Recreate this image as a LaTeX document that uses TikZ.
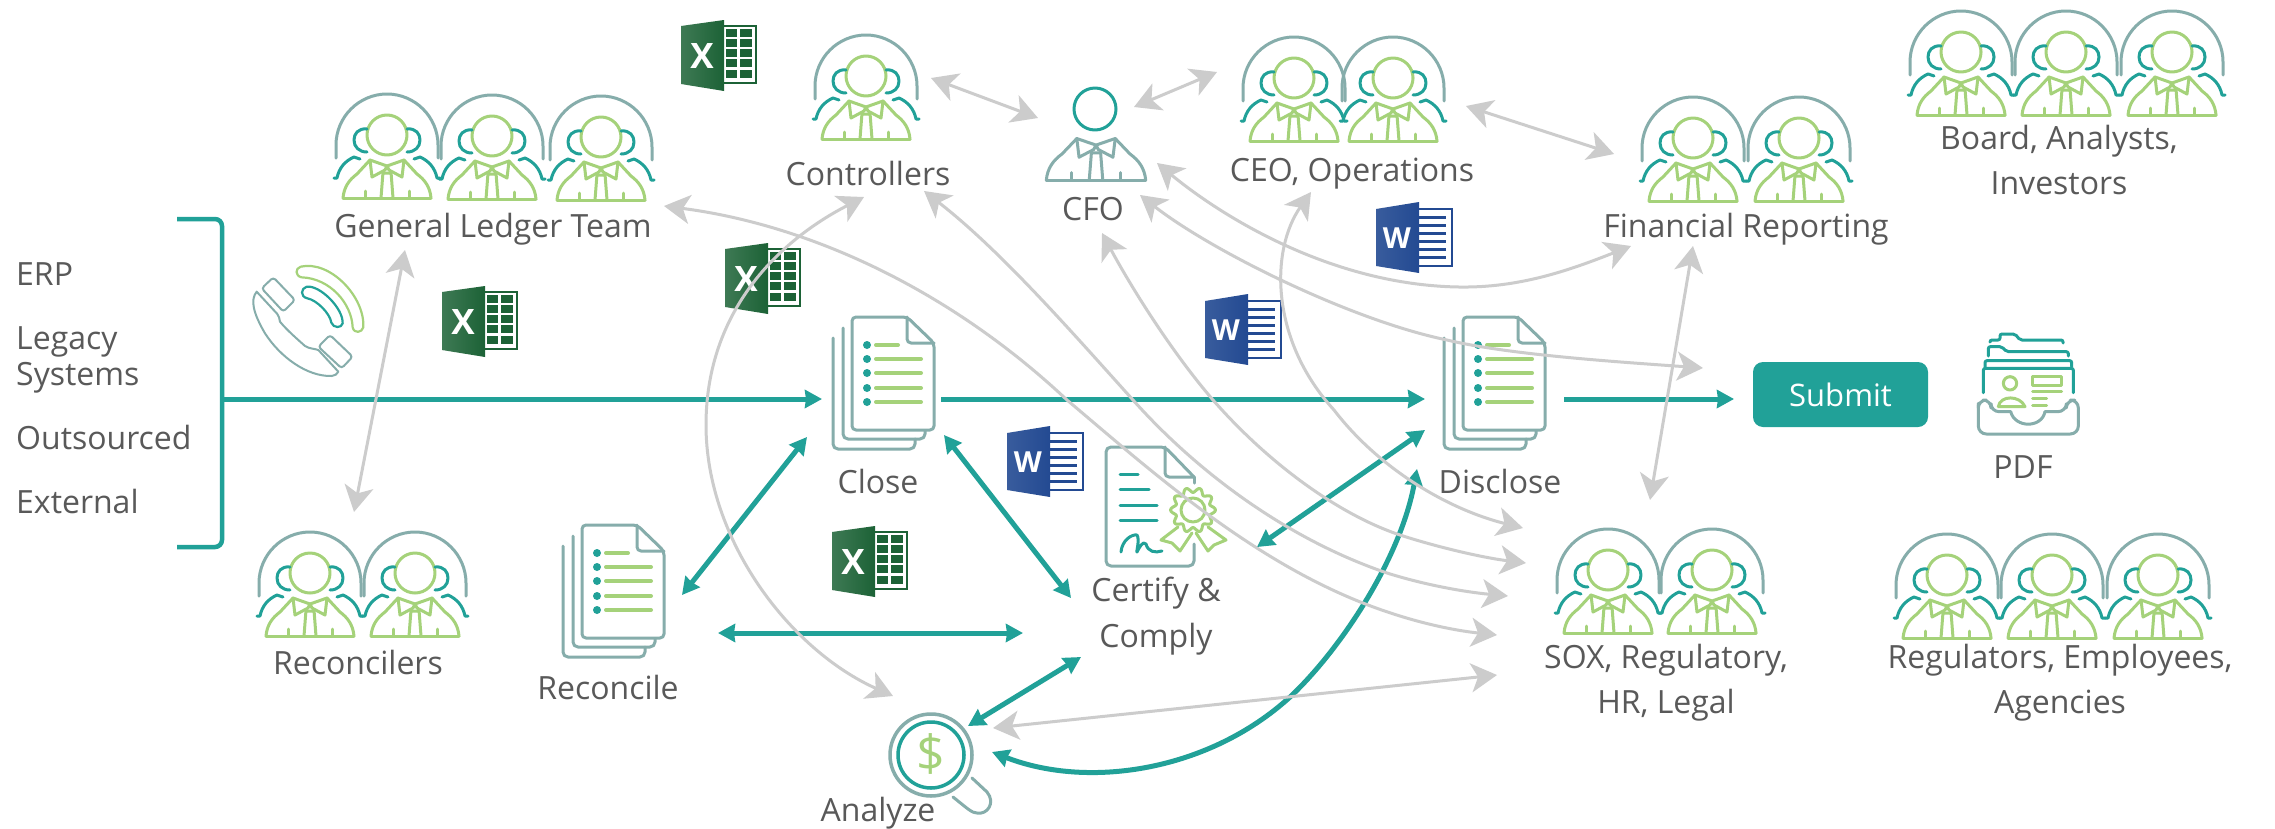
\documentclass[tikz,border=0pt]{standalone}
\usepackage{fontspec}
\setmainfont{Open Sans}
\usetikzlibrary{arrows.meta}
\definecolor{tealc}{HTML}{21A198}
\definecolor{greyc}{HTML}{CCCCCC}
\definecolor{iconc}{HTML}{86ADAB}
\definecolor{greenc}{HTML}{A5D27A}
\definecolor{textc}{HTML}{595959}
\definecolor{xlc}{HTML}{1C6236}
\definecolor{wdc}{HTML}{234A92}
\tikzset{
  lbl/.style={text=textc,font=\fontsize{32}{36}\selectfont,inner sep=0pt,align=center,text height=28pt,text depth=6pt},
  lbll/.style={lbl,anchor=west},
  ga/.style={draw=greyc,line width=3pt,{Stealth[length=26pt,width=29pt,inset=7pt]}-{Stealth[length=26pt,width=29pt,inset=7pt]}},
  ta/.style={draw=tealc,line width=5pt,{Stealth[length=17pt,width=18pt,inset=1pt]}-{Stealth[length=17pt,width=18pt,inset=1pt]}},
  tr/.style={draw=tealc,line width=5pt,-{Stealth[length=17pt,width=18pt,inset=1pt]}},
  ig/.style={draw=iconc,line width=3pt,line join=round,line cap=round},
  ie/.style={draw=greenc,line width=3pt,line join=round,line cap=round},
  it/.style={draw=tealc,line width=3pt,line join=round,line cap=round},
  submitbox/.style={fill=tealc,rounded corners=10pt,minimum width=175pt,minimum height=65pt,inner sep=0pt,text=white,font=\fontsize{31}{36}\selectfont},
  torso/.pic={
    \draw[#1] (-44,63) -- (44,63);
    \draw[#1] (-44,63) .. controls (-43,52) and (-38,45) .. (-30,39) -- (-17,25) -- (0,31) -- (17,25) -- (30,39) .. controls (38,45) and (43,52) .. (44,63);
    \draw[#1] (-17,25) -- (-15,42) -- (-2,35) -- (0,31) -- (2,35) -- (15,42) -- (17,25);
    \draw[#1] (-4,37) -- (-6,63) (4,37) -- (6,63) (-4,38) -- (4,38);
    \draw[#1] (-22,63) -- (-22,56) (22,63) -- (22,56);
  },
  person/.pic={
    \draw[ig] (-51,23) -- (-51,10) .. controls (-51,-18) and (-28,-41) .. (0,-41) .. controls (28,-41) and (51,-18) .. (51,10) -- (51,23);
    \draw[ie] (0,0) circle[radius=20];
    \draw[it] (-20,-6) .. controls (-29,-7) and (-33,-1) .. (-33,5) .. controls (-33,12) and (-28,17) .. (-20,17);
    \draw[it] (20,-6) .. controls (29,-7) and (33,-1) .. (33,5) .. controls (33,12) and (28,17) .. (20,17);
    \draw[it] (-27,24) -- (-33,22) .. controls (-42,26) and (-48,33) .. (-50,43) -- (-53,43);
    \draw[it] (27,24) -- (33,22) .. controls (42,26) and (48,33) .. (50,43) -- (53,43);
    \pic {torso=ie};
  },
  stack/.pic={
    \draw[ig,rounded corners=5pt] (-19,21) -- (-19,132) -- (63,132) -- (63,122);
    \draw[ig,rounded corners=5pt] (-9,11) -- (-9,122) -- (73,122) -- (73,113);
    \draw[ig,fill=white,rounded corners=4pt] (0,0) -- (55,0) -- (82,26) -- (82,113) -- (0,113) -- cycle;
    \draw[ig,rounded corners=4pt] (55,0) -- (55,26) -- (82,26);
    \foreach \yy/\xe in {28/46,42/69,56/69,71/69,85/69}{
      \fill[tealc] (15,\yy) circle[radius=4];
      \draw[ie,line width=4pt] (24,\yy) -- (\xe,\yy);
    }
  },
  excel/.pic={
    \draw[xlc,line width=1.5pt,fill=white] (40,6) rectangle (75,63);
    \foreach \yy in {9,19,29,39,50}{
      \fill[xlc] (45,\yy) rectangle (56,\yy+7.5);
      \fill[xlc] (59,\yy) rectangle (71,\yy+7.5);
    }
    \shade[left color=xlc!85!white,right color=xlc] (0,6) -- (43,0) -- (43,71) -- (0,64) -- cycle;
    \node[text=white,font=\bfseries\fontsize{35}{38}\selectfont,inner sep=0pt] at (21,36) {X};
  },
  word/.pic={
    \draw[wdc,line width=1.5pt,fill=white] (40,7) rectangle (76,64);
    \foreach \yy in {15,23,31,39,47,55}{
      \fill[wdc] (43,\yy-1.5) rectangle (70,\yy+1.5);
    }
    \shade[left color=wdc!90!white,right color=wdc] (0,7) -- (43,0) -- (43,71) -- (0,64) -- cycle;
    \node[text=white,font=\bfseries\fontsize{29}{32}\selectfont,inner sep=0pt] at (21,36) {W};
  },
}
\begin{document}
\begin{tikzpicture}[x=1pt,y=-1pt]
\useasboundingbox (0,0) rectangle (2275,828);
\fill[white] (0,0) rectangle (2275,828);

% people
\pic (gl1) at (387,135) {person};
\pic (gl2) at (492,136) {person};
\pic (gl3) at (601,137) {person};
\pic (rc1) at (310,573) {person};
\pic (rc2) at (415,573) {person};
\pic (ct1) at (866,76) {person};
\pic (ce1) at (1294,78) {person};
\pic (ce2) at (1393,78) {person};
\pic (fr1) at (1693,138) {person};
\pic (fr2) at (1799,138) {person};
\pic (bd1) at (1961,52) {person};
\pic (bd2) at (2066,52) {person};
\pic (bd3) at (2172,52) {person};
\pic (rg1) at (1947,575) {person};
\pic (rg2) at (2052,575) {person};
\pic (rg3) at (2158,575) {person};
\pic (sx1) at (1608,570) {person};
\pic (sx2) at (1712,570) {person};

% CFO
\draw[it] (1095,109) circle[radius=21];
\pic[xscale=1.13,yscale=1.1] (cf) at (1096,111) {torso=ig};

% Documents
\pic (closeicon) at (852,317) {stack};
\pic (discicon) at (1463,317) {stack};
\pic (recicon) at (582,525) {stack};

% Office icons
\pic (x1) at (681,20) {excel};
\pic (x2) at (442,286) {excel};
\pic (x3) at (725,243) {excel};
\pic (x4) at (832,526) {excel};
\pic (w1) at (1376,202) {word};
\pic (w2) at (1205,294) {word};
\pic (w3) at (1007,426) {word};

% Certificate
\draw[ig,rounded corners=5pt] (1194,477) -- (1194,483);
\draw[ig,rounded corners=5pt] (1194,544) -- (1194,566) -- (1106,566) -- (1106,447) -- (1165,447) -- (1194,477);
\draw[ig,rounded corners=4pt] (1165,447) -- (1165,477) -- (1194,477);
\draw[it] (1120,474) -- (1138,474) (1120,489) -- (1149,489) (1120,505) -- (1157,505) (1120,520) -- (1157,520);
\draw[it] (1121,552) .. controls (1122,540) and (1132,534) .. (1137,535) .. controls (1140,540) and (1136,552) .. (1137,552) .. controls (1139,548) and (1143,540) .. (1146,544) .. controls (1148,552) and (1155,553) .. (1162,551);
\draw[ie] plot[domain=0:360,samples=91] ({1193+(20+2.5*cos(10*\x))*cos(\x)},{510+(20+2.5*cos(10*\x))*sin(\x)});
\draw[ie] (1193,510) circle[radius=12];
\draw[ie] (1178,527) -- (1161,540) -- (1172,543) -- (1180,551) -- (1192,533);
\draw[ie] (1208,527) -- (1226,540) -- (1214,545) -- (1208,551) -- (1196,533);

% Phone
\begin{scope}[shift={(230,240)},scale=1/3]
\draw[ig,rounded corners=3pt,line width=2pt] (95,145) -- (130,112) -- (195,180) -- (160,215) -- cycle;
\draw[ig,rounded corners=3pt,line width=2pt] (265,320) -- (300,285) -- (368,350) -- (335,385) -- cycle;
\draw[ig,line width=2pt] (80,155) .. controls (60,180) and (70,220) .. (105,280) .. controls (150,350) and (230,410) .. (305,408) .. controls (315,407) and (322,402) .. (325,395) -- (265,330) .. controls (250,325) and (240,327) .. (225,318) .. controls (205,300) and (170,270) .. (150,245) .. controls (145,235) and (150,228) .. (142,222) -- cycle;
\draw[ie,line width=2.2pt] (212,80) .. controls (300,60) and (405,170) .. (400,262) .. controls (396,278) and (372,282) .. (368,262) .. controls (365,190) and (300,115) .. (215,112) .. controls (195,108) and (195,85) .. (212,80);
\draw[it,line width=2.2pt] (230,140) .. controls (270,135) and (340,205) .. (338,250) .. controls (335,265) and (310,265) .. (304,248) .. controls (300,220) and (260,180) .. (232,175) .. controls (210,170) and (212,145) .. (230,140);
\end{scope}

% Magnifier
\draw[ig,line width=3.5pt] (931,755) circle[radius=41];
\draw[it,line width=3.5pt] (931,755) circle[radius=33];
\node[text=greenc,font=\fontsize{50}{54}\selectfont,inner sep=0pt] (dollar) at (931,754) {\$};
\draw[ig] (972,778) -- (987,792) .. controls (996,803) and (987,815) .. (977,813) .. controls (972,813) and (968,809) .. (953,797);

% File drawer
\begin{scope}[shift={(1740,340)},scale=1/3]
\draw[it,rounded corners=2pt] (730,158) -- (730,85) -- (1000,85) -- (1000,158);
\draw[it,rounded corners=2pt] (735,82) -- (735,62) -- (995,62) -- (995,80);
\draw[it,rounded corners=2pt] (745,48) -- (745,20) -- (785,20) -- (800,35) -- (985,35) -- (985,48);
\draw[it,rounded corners=2pt] (750,6) -- (750,0) -- (780,0) -- (780,-18) -- (825,-18) -- (840,0) -- (969,0) -- (969,9);
\draw[ie] (810,130) circle[radius=20];
\draw[ie] (775,200) .. controls (780,165) and (840,165) .. (855,200) -- (775,200);
\draw[ie] (878,110) rectangle (965,135);
\draw[ie] (878,155) -- (965,155) (878,175) -- (920,175) (878,197) -- (920,197);
\draw[ig,rounded corners=8pt] (715,190) -- (715,282) -- (1015,282) -- (1015,180) -- (980,180) -- (978,215) -- (915,215);
\draw[ig] (915,215) .. controls (905,265) and (825,265) .. (812,215);
\draw[ig,rounded corners=8pt] (812,215) -- (753,215) -- (753,180) -- (715,180) -- (715,195);
\end{scope}

% Labels
\node[lbl] (glT) at (493,226) {General Ledger Team};
\node[lbl] (ctT) at (868,174) {Controllers};
\node[lbl] (cfT) at (1093,209) {CFO};
\node[lbl] (ceT) at (1352,170) {CEO, Operations};
\node[lbl] (frT) at (1746,226) {Financial Reporting};
\node[lbl] (bdT) at (2059,138) {Board, Analysts,};
\node[lbl] (bdT2) at (2059,183) {Investors};
\node[lbll] (erp) at (16,274) {ERP};
\node[lbll] (leg) at (16,338) {Legacy};
\node[lbll] (sys) at (16,374) {Systems};
\node[lbll] (out) at (16,438) {Outsourced};
\node[lbll] (ext) at (16,502) {External};
\node[lbl] (rcT) at (358,663) {Reconcilers};
\node[lbl] (reT) at (608,688) {Reconcile};
\node[lbl] (clT) at (878,482) {Close};
\node[lbl] (ceR) at (1156,590) {Certify \&};
\node[lbl] (ceR2) at (1156,636) {Comply};
\node[lbl] (dsT) at (1500,482) {Disclose};
\node[lbl] (pdfT) at (2023,467) {PDF};
\node[lbl] (sxT) at (1666,657) {SOX, Regulatory,};
\node[lbl] (sxT2) at (1666,702) {HR, Legal};
\node[lbl] (rgT) at (2060,657) {Regulators, Employees,};
\node[lbl] (rgT2) at (2060,702) {Agencies};
\node[lbl] (anT) at (878,810) {Analyze};
\node[submitbox] (submit) at (1840.5,394.5) {Submit};

% Connector ends
\coordinate (brT) at (177,219);
\coordinate (brB) at (177,547);
\coordinate (mainS) at (222,399);
\coordinate (closeW) at (822,399);
\coordinate (closeE) at (941,399);
\coordinate (discW) at (1425,399);
\coordinate (discE) at (1564,399);
\coordinate (subW) at (1734,399);
\coordinate (closeSW) at (807,437);
\coordinate (reconNE) at (682,595);
\coordinate (closeSE) at (944,435);
\coordinate (certNW) at (1071,598);
\coordinate (reconE) at (718,633);
\coordinate (certW) at (1023,633);
\coordinate (certSW) at (1081,657);
\coordinate (anaNE) at (968,726);
\coordinate (certE) at (1257,547);
\coordinate (discSW) at (1425,430);
\coordinate (discS) at (1417,469);
\coordinate (anaE) at (992,752);
\coordinate (glS) at (405,250);
\coordinate (rcN) at (354,512);
\coordinate (ctE) at (931,78);
\coordinate (cfW) at (1038,118);
\coordinate (cfE) at (1134,107);
\coordinate (ceW) at (1217,72);
\coordinate (ceE) at (1466,106);
\coordinate (frW) at (1614,154);
\coordinate (anaE2) at (993,728);
\coordinate (sxE) at (1497,675);
\coordinate (frS) at (1693,246);
\coordinate (sxN) at (1650,500);
\coordinate (cfSE) at (1157,163);
\coordinate (frSW) at (1631,246);
\coordinate (cfS2) at (1140,195);
\coordinate (subNW) at (1703,368);
\coordinate (ceS) at (1311,192);
\coordinate (sxA) at (1523,528);
\coordinate (cfS) at (1102,233);
\coordinate (sxB) at (1526,563);
\coordinate (ctS) at (924,191);
\coordinate (sxC) at (1508,596);
\coordinate (glE) at (664,206);
\coordinate (sxD) at (1497,635);
\coordinate (ctSW) at (864,197);
\coordinate (anaNW) at (893,696);

% Teal connectors
\draw[draw=tealc,line width=4.5pt,rounded corners=7pt] (brT) -| (mainS) |- (brB);
\draw[tr] (mainS) -- (closeW);
\draw[tr] (closeE) -- (discW);
\draw[tr] (discE) -- (subW);
\draw[ta] (closeSW) -- (reconNE);
\draw[ta] (closeSE) -- (certNW);
\draw[ta] (reconE) -- (certW);
\draw[ta] (certSW) -- (anaNE);
\draw[ta] (certE) -- (discSW);
\draw[ta] (discS) .. controls (1400,560) and (1340,650) .. (1290,697) .. controls (1210,770) and (1090,790) .. (anaE);

% Grey connectors
\draw[ga] (glS) -- (rcN);
\draw[ga] (ctE) -- (cfW);
\draw[ga] (cfE) -- (ceW);
\draw[ga] (ceE) -- (frW);
\draw[ga] (anaE2) -- (sxE);
\draw[ga] (frS) -- (sxN);
\draw[ga] (cfSE) .. controls (1220,215) and (1330,285) .. (1459,287) .. controls (1520,288) and (1570,270) .. (frSW);
\draw[ga] (cfS2) .. controls (1210,250) and (1350,320) .. (1447,340) .. controls (1510,355) and (1620,362) .. (subNW);
\draw[ga] (ceS) .. controls (1270,250) and (1270,340) .. (1334,410) .. controls (1380,470) and (1450,510) .. (sxA);
\draw[ga] (cfS) .. controls (1130,285) and (1170,350) .. (1213,400) .. controls (1270,465) and (1340,515) .. (1400,535) .. controls (1440,548) and (1485,558) .. (sxB);
\draw[ga] (ctS) .. controls (1000,250) and (1070,330) .. (1133,400) .. controls (1200,475) and (1290,540) .. (1387,573) .. controls (1425,585) and (1465,592) .. (sxC);
\draw[ga] (glE) .. controls (810,225) and (950,290) .. (1067,400) .. controls (1150,470) and (1250,560) .. (1368,605) .. controls (1410,621) and (1450,630) .. (sxD);
\draw[ga] (ctSW) .. controls (780,240) and (706,310) .. (706,425) .. controls (706,540) and (790,650) .. (anaNW);
\end{tikzpicture}
\end{document}
